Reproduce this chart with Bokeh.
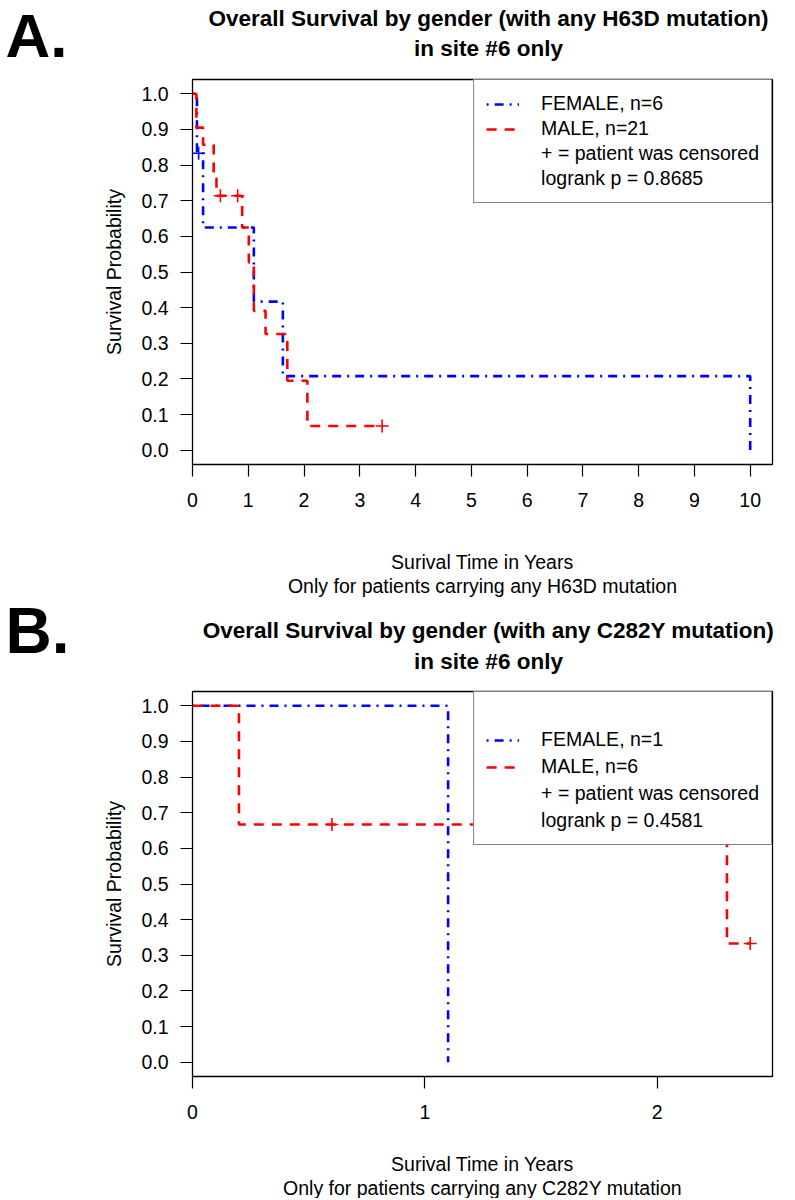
import math
from bokeh.plotting import figure
from bokeh.models import Range1d, FixedTicker, Label, Legend, LegendItem, NumeralTickFormatter
from bokeh.layouts import column
from bokeh.embed import file_html
from bokeh.resources import INLINE

# ---------------- data ----------------
# Panel A: H63D
a_female_t = [0.0, 0.08, 0.19, 1.10, 1.62, 10.0]
a_female_s = [1.0, 0.833, 0.625, 0.417, 0.208, 0.0]
a_female_cens_t = [0.11]
a_female_cens_s = [0.833]
a_male_t = [0.0, 0.07, 0.19, 0.38, 0.43, 0.89, 1.01, 1.10, 1.31, 1.70, 2.06, 3.40]
a_male_s = [1.0, 0.905, 0.857, 0.762, 0.714, 0.625, 0.527, 0.391, 0.326, 0.195, 0.068, 0.068]
a_male_cens_t = [0.50, 0.81, 3.40]
a_male_cens_s = [0.714, 0.714, 0.068]
a_xticks = [0, 1, 2, 3, 4, 5, 6, 7, 8, 9, 10]
a_legend = ["FEMALE, n=6", "MALE, n=21", "+ = patient was censored", "logrank p = 0.8685"]
a_title = ["Overall Survival by gender (with any H63D mutation)", "in site #6 only"]
a_xlab = ["Surival Time in Years", "Only for patients carrying any H63D mutation"]

# Panel B: C282Y
b_female_t = [0.0, 1.10]
b_female_s = [1.0, 0.0]
b_female_cens_t = []
b_female_cens_s = []
b_male_t = [0.0, 0.20, 2.30, 2.40]
b_male_s = [1.0, 0.667, 0.333, 0.333]
b_male_cens_t = [0.60, 1.90, 2.40]
b_male_cens_s = [0.667, 0.667, 0.333]
b_xticks = [0, 1, 2]
b_legend = ["FEMALE, n=1", "MALE, n=6", "+ = patient was censored", "logrank p = 0.4581"]
b_title = ["Overall Survival by gender (with any C282Y mutation)", "in site #6 only"]
b_xlab = ["Surival Time in Years", "Only for patients carrying any C282Y mutation"]

y_ticks = [0.0, 0.1, 0.2, 0.3, 0.4, 0.5, 0.6, 0.7, 0.8, 0.9, 1.0]
y_label = "Survival Probability"

FONT = "Liberation Sans"
BLUE = "#0000FF"
RED = "#FF0000"
W = 795
LEFT, RIGHT, TOP, BOTTOM = 192, 23, 4, 56
FRAME_H = 385


def text_fig(h):
    f = figure(width=W, height=h, x_range=Range1d(0, W), y_range=Range1d(h, 0),
               min_border=0, min_border_left=0, min_border_right=0,
               min_border_top=0, min_border_bottom=0,
               x_axis_location=None, y_axis_location=None,
               output_backend="svg", toolbar_location=None, title=None)
    f.frame_align = False
    f.outline_line_color = None
    f.grid.visible = False
    f.background_fill_color = "white"
    f.border_fill_color = "white"
    return f


def txt(f, X, Y, text, size, bold=False, align="center", baseline="middle"):
    f.add_layout(Label(x=X, y=Y, text=text, text_font=FONT, text_font_size=size,
                       text_font_style="bold" if bold else "normal",
                       text_align=align, text_baseline=baseline, text_color="black"))


def plot_fig(ft, fs, fct, fcs, mt, ms, mct, mcs, xticks, xmax, legend_labels,
             blank_row, spacing):
    x1 = xmax * 1.04
    p = figure(width=W, height=TOP + FRAME_H + BOTTOM, output_backend="svg",
               toolbar_location=None, title=None,
               x_range=Range1d(0, x1), y_range=Range1d(-0.04, 1.04),
               min_border_left=LEFT, min_border_right=RIGHT,
               min_border_top=TOP, min_border_bottom=BOTTOM)
    p.frame_align = False
    p.background_fill_color = "white"
    p.border_fill_color = "white"
    p.outline_line_color = "black"
    p.outline_line_width = 1.3
    p.grid.visible = False

    for ax in (p.xaxis[0], p.yaxis[0]):
        ax.axis_line_color = None
        ax.major_tick_in = 0
        ax.major_tick_out = 12
        ax.major_tick_line_color = "black"
        ax.major_tick_line_width = 1.2
        ax.minor_tick_line_color = None
        ax.major_label_text_font = FONT
        ax.major_label_text_font_size = "19.5px"
        ax.major_label_text_color = "black"
    p.xaxis[0].major_label_standoff = 16
    p.yaxis[0].major_label_standoff = 12
    p.xaxis[0].ticker = FixedTicker(ticks=xticks)
    p.yaxis[0].ticker = FixedTicker(ticks=y_ticks)
    p.yaxis[0].formatter = NumeralTickFormatter(format="0.0")
    p.yaxis[0].major_label_orientation = "horizontal"
    p.yaxis[0].axis_label = y_label
    p.yaxis[0].axis_label_text_font = FONT
    p.yaxis[0].axis_label_text_font_size = "19.5px"
    p.yaxis[0].axis_label_text_font_style = "normal"
    p.yaxis[0].axis_label_text_color = "black"
    p.yaxis[0].axis_label_standoff = 13

    rf = p.step(ft, fs, mode="after", line_color=BLUE, line_width=2.6, line_dash="2 6 9 6")
    if fct:
        p.scatter(fct, fcs, marker="cross", size=13, line_color=BLUE, line_width=1.6)
    rm = p.step(mt, ms, mode="after", line_color=RED, line_width=2.6, line_dash="10 8")
    p.scatter(mct, mcs, marker="cross", size=13, line_color=RED, line_width=1.6)
    dummy = p.line(x=[], y=[], line_alpha=0)

    items = []
    if blank_row:
        items.append(LegendItem(label=" ", renderers=[dummy]))
    items += [LegendItem(label=legend_labels[0], renderers=[rf]),
              LegendItem(label=legend_labels[1], renderers=[rm]),
              LegendItem(label=legend_labels[2], renderers=[dummy]),
              LegendItem(label=legend_labels[3], renderers=[dummy])]
    legend = Legend(items=items, location="top_right", margin=0, padding=12, spacing=spacing,
                    glyph_width=33, glyph_height=20, label_height=20, label_standoff=22,
                    border_line_color="black", border_line_width=1.2,
                    label_text_font=FONT, label_text_font_size="19.5px",
                    label_text_color="black", background_fill_color="white",
                    background_fill_alpha=1.0)
    p.add_layout(legend)
    return p


CX = LEFT + 580 / 2        # centre of the plot frame (x labels)
TX = CX + 6                # titles sit slightly right of it
PH = TOP + FRAME_H + BOTTOM  # 445

# header A : page y 0..75
headA = text_fig(75)
txt(headA, 5, 0, "A.", "62px", bold=True, align="left", baseline="top")
txt(headA, TX, 18, a_title[0], "22.5px", bold=True)
txt(headA, TX, 48, a_title[1], "22.5px", bold=True)

plotA = plot_fig(a_female_t, a_female_s, a_female_cens_t, a_female_cens_s,
                 a_male_t, a_male_s, a_male_cens_t, a_male_cens_s,
                 a_xticks, 10.0, a_legend, blank_row=False, spacing=2)

# middle : page y 520..687
M0 = 75 + PH
mid = text_fig(687 - M0)
txt(mid, CX, 561 - M0, a_xlab[0], "19.5px")
txt(mid, CX, 585 - M0, a_xlab[1], "19.5px")
txt(mid, 5, 630 - M0, "B.", "64px", bold=True, align="left")
txt(mid, TX, 630 - M0, b_title[0], "22.5px", bold=True)
txt(mid, TX, 661 - M0, b_title[1], "22.5px", bold=True)

plotB = plot_fig(b_female_t, b_female_s, b_female_cens_t, b_female_cens_s,
                 b_male_t, b_male_s, b_male_cens_t, b_male_cens_s,
                 b_xticks, 2.4, b_legend, blank_row=True, spacing=4)

F0 = 687 + PH
foot = text_fig(1198 - F0)
txt(foot, CX, 1163 - F0, b_xlab[0], "19.5px")
txt(foot, CX, 1187 - F0, b_xlab[1], "19.5px")

layout = column(headA, plotA, mid, plotB, foot, spacing=0)
open("out.html", "w").write(file_html(layout, INLINE))
